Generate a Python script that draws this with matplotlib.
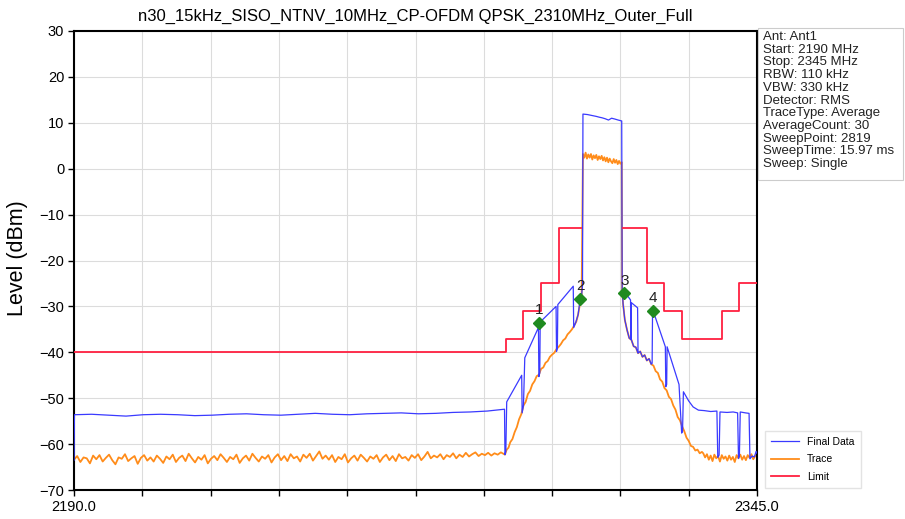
import matplotlib
matplotlib.use("Agg")
import matplotlib.pyplot as plt
from matplotlib.patches import Rectangle
import numpy as np

plt.rcParams['font.family'] = ['Liberation Sans', 'DejaVu Sans']

# ---- data ----
title = "n30_15kHz_SISO_NTNV_10MHz_CP-OFDM QPSK_2310MHz_Outer_Full"
info_lines = ["Ant: Ant1", "Start: 2190 MHz", "Stop: 2345 MHz", "RBW: 110 kHz",
              "VBW: 330 kHz", "Detector: RMS", "TraceType: Average",
              "AverageCount: 30", "SweepPoint: 2819", "SweepTime: 15.97 ms",
              "Sweep: Single"]

# Trace (orange) - noise floor left of the channel
trace_floor_left = [-63.4, -62.6, -63.9, -62.9, -63.1, -64.2, -62.5, -63.3, -62.4, -63.8,
                    -63.0, -62.3, -63.5, -64.4, -62.9, -63.2, -62.2, -63.7, -63.1, -62.6,
                    -64.3, -63.0, -62.4, -63.6, -62.9, -63.8, -62.5, -63.2, -64.1, -62.7,
                    -63.3, -62.3, -63.9, -63.0, -62.5, -63.7, -62.1, -63.1, -64.0, -62.8,
                    -63.4, -62.4, -64.2, -63.2, -62.6, -63.5, -62.2, -63.0, -63.9, -62.8,
                    -63.3, -62.3, -64.1, -63.1, -62.5, -63.6, -62.1, -63.0, -63.8, -62.7,
                    -63.2, -62.4, -64.0, -62.9, -62.2, -63.5, -62.6, -63.7, -62.2, -63.1,
                    -62.7, -63.8, -62.3, -63.0, -62.1, -63.6, -62.6, -61.6, -63.2, -62.5,
                    -63.4, -62.4, -63.9, -62.8, -63.3, -62.2, -64.0, -63.1, -62.5, -63.6,
                    -62.3, -63.0, -63.8, -62.7, -63.2, -62.4, -63.9, -62.9, -62.3, -63.5,
                    -62.6, -63.7, -62.2, -63.1, -62.8, -63.6, -62.4, -63.0, -62.2, -63.5,
                    -62.7, -61.7, -63.1, -62.5, -62.9, -62.2, -63.3, -62.4, -62.8, -62.0,
                    -63.1, -62.3, -62.8, -61.9, -62.7, -62.2, -61.8, -62.6, -62.1, -62.4,
                    -61.9, -62.5, -62.0, -62.3, -61.8, -62.2]
trace_skirt_left_f = [2287.8, 2288.2, 2288.6, 2289.0, 2289.5, 2290.0, 2290.5, 2291.0, 2291.5,
                      2292.0, 2292.5, 2293.0, 2293.5, 2294.0, 2294.5, 2295.0, 2295.5, 2296.0,
                      2296.5, 2297.0, 2297.5, 2298.0, 2298.5, 2299.0, 2299.5, 2300.0, 2300.5,
                      2301.0, 2301.5, 2302.0, 2302.5, 2303.0, 2303.5, 2304.0, 2304.4, 2304.8,
                      2305.2]
trace_skirt_left_l = [-62.3, -61.2, -60.8, -59.6, -58.9, -57.4, -56.3, -54.6, -53.5, -51.6,
                      -50.8, -49.1, -48.4, -47.0, -46.3, -45.2, -44.9, -43.6, -43.3, -42.3,
                      -41.9, -41.0, -40.5, -40.1, -39.3, -38.8, -38.2, -37.4, -37.0, -36.1,
                      -35.6, -35.0, -34.2, -33.3, -31.8, -29.6, -27.8]
trace_channel = [3.2, 2.4, 3.5, 2.2, 3.1, 2.4, 3.2, 2.0, 2.9, 2.3, 3.0, 1.9, 2.7, 2.1, 2.8,
                 1.8, 2.5, 1.6, 2.4, 1.4, 2.2, 1.6, 1.2, 2.1, 1.3, 1.9, 1.0, 1.7, 1.1, 1.4]
trace_skirt_right_f = [2314.4, 2314.6, 2315.0, 2315.5, 2316.0, 2316.5, 2317.0, 2317.5, 2318.0,
                       2318.5, 2319.0, 2319.5, 2320.0, 2320.5, 2321.0, 2321.5, 2322.0, 2322.5,
                       2323.0, 2323.5, 2324.0, 2324.5, 2325.0, 2325.5, 2326.0, 2326.5, 2327.0,
                       2327.5, 2328.0, 2328.5, 2329.0, 2329.5, 2330.0, 2330.5, 2331.0, 2331.5,
                       2332.0, 2332.5]
trace_skirt_right_l = [-26.2, -29.4, -32.9, -35.1, -36.9, -37.3, -38.7, -38.9, -40.2, -39.8,
                       -41.0, -40.6, -41.8, -41.4, -42.6, -42.9, -44.1, -44.5, -45.9, -46.4,
                       -47.8, -48.3, -49.7, -50.2, -51.6, -52.5, -54.1, -54.8, -56.1, -57.2,
                       -58.6, -59.3, -60.4, -60.6, -61.4, -61.2, -62.0, -61.7]
trace_floor_right = [-62.0, -62.9, -62.2, -63.4, -62.5, -63.7, -62.3, -63.1, -62.6, -63.8,
                     -62.4, -63.2, -62.7, -63.6, -62.5, -63.4, -62.8, -63.9, -62.4, -63.1,
                     -62.3, -63.4, -62.6, -63.5, -62.4, -63.0, -62.2, -63.3, -62.6, -62.3]

# Final Data (blue)
final_floor = [-53.6, -53.5, -53.7, -53.9, -53.6, -53.5, -53.6, -53.8, -53.7, -53.5,
               -53.4, -53.6, -53.7, -53.5, -53.3, -53.5, -53.6, -53.4, -53.3, -53.2,
               -53.4, -53.3, -53.1, -53.0, -52.8, -52.4]
final_left_f = [2287.8, 2288.0, 2288.2, 2291.6, 2291.7, 2292.0, 2292.3, 2295.4, 2295.5,
                2295.7, 2295.8, 2299.4, 2299.5, 2299.7, 2299.8, 2303.3, 2303.4, 2303.9,
                2304.4, 2304.8, 2305.2, 2305.4]
final_left_l = [-62.3, -61.6, -50.8, -45.0, -53.2, -51.6, -41.2, -34.6, -45.3,
                -44.5, -33.4, -30.0, -39.8, -39.1, -29.6, -25.6, -34.6, -33.4,
                -31.8, -29.0, -27.5, -25.5]
final_channel_f = [2305.5, 2306.5, 2307.5, 2308.5, 2309.3, 2309.8, 2310.5, 2311.3, 2312.0,
                   2312.8, 2313.5, 2314.3]
final_channel_l = [11.9, 11.8, 11.6, 11.4, 11.2, 11.1, 10.9, 10.6, 11.0, 10.8, 10.6, 10.4]
final_right_f = [2321.2, 2321.3, 2324.2, 2324.3, 2324.5, 2324.6, 2327.3, 2327.9, 2328.1,
                 2328.3, 2329.5, 2330.5, 2331.7, 2333.0, 2334.5, 2335.9, 2336.1, 2336.4,
                 2336.6, 2338.2, 2339.6, 2340.6, 2340.8, 2341.0, 2341.2, 2342.4, 2343.2,
                 2343.4, 2343.9, 2344.4, 2344.8, 2345.0]
final_right_l = [-42.4, -30.6, -38.8, -47.5, -47.0, -38.8, -47.0, -57.6, -57.2,
                 -48.6, -50.6, -51.9, -52.6, -52.7, -52.9, -52.8, -62.9, -62.4,
                 -53.0, -53.1, -53.0, -53.2, -63.1, -62.6, -53.0, -53.2, -53.3,
                 -63.2, -62.6, -62.8, -61.6, -62.0]
final_extra_f = [2314.8, 2316.3, 2316.4, 2316.5, 2317.9, 2318.0]
final_extra_l = [-26.6, -28.6, -37.2, -29.2, -30.3, -39.9]

# Limit (red) steps
limit_edges = [2190, 2288, 2292, 2296, 2300, 2305.0, 2314.6, 2320, 2324, 2328, 2337, 2341, 2345]
limit_levels = [-40, -37, -31, -25, -13, np.nan, -13, -25, -31, -37, -31, -25]

# Markers
marker_f = [2295.5, 2304.85, 2314.9, 2321.4]
marker_l = [-33.6, -28.3, -27.1, -31.0]
marker_names = ["1", "2", "3", "4"]

# ---- assemble series ----
trace_f = np.concatenate([np.linspace(2190.0, 2287.6, len(trace_floor_left)),
                          trace_skirt_left_f,
                          np.linspace(2305.5, 2314.3, len(trace_channel)),
                          trace_skirt_right_f,
                          np.linspace(2332.8, 2345.0, len(trace_floor_right))])
trace_l = np.concatenate([trace_floor_left, trace_skirt_left_l, trace_channel,
                          trace_skirt_right_l, trace_floor_right])

tr_f = np.array(trace_skirt_right_f)
tr_l = np.array(trace_skirt_right_l)
follow = (tr_f >= 2314.4) & (tr_f <= 2321.0)
final_f = np.concatenate([[2190.0], np.linspace(2190.1, 2287.7, len(final_floor)),
                          final_left_f, final_channel_f, tr_f[follow], final_right_f,
                          [np.nan], final_extra_f])
final_l = np.concatenate([[-63.5], final_floor, final_left_l, final_channel_l,
                          tr_l[follow], final_right_l, [np.nan], final_extra_l])

# ---- figure ----
W, H = 905, 519
fig = plt.figure(figsize=(W / 100, H / 100), dpi=100)
ax = fig.add_axes([74 / W, 1 - 490 / H, (757 - 74) / W, (490 - 31) / H])

l_trace, = ax.plot(trace_f, trace_l, color='#ff8c1a', lw=1.3, label='Trace', zorder=2)
l_final, = ax.plot(final_f, final_l, color='#3a3aff', lw=0.9, label='Final Data', zorder=3)
l_limit, = ax.step(limit_edges, limit_levels + [limit_levels[-1]], where='post',
                   color='#ff2040', lw=1.3, label='Limit', zorder=4)
ax.plot(marker_f, marker_l, 'D', color='#1f8a1f', ms=6, zorder=5)
for f, l, n in zip(marker_f, marker_l, marker_names):
    ax.annotate(n, (f, l), xytext=(0, 4), textcoords='offset points',
                ha='center', va='bottom', fontsize=11, color='#222222', zorder=6)

ax.set_xlim(2190, 2345)
ax.set_ylim(-70, 30)
xt = np.linspace(2190, 2345, 11)
ax.set_xticks(xt)
ax.set_xticklabels(['2190.0'] + [''] * 9 + ['2345.0'])
ax.set_yticks(np.arange(-70, 31, 10))
ax.tick_params(direction='out', length=4, width=1, labelsize=10.5, pad=3)
ax.grid(True, color='#dcdcdc', lw=0.8)
ax.set_axisbelow(True)
for s in ax.spines.values():
    s.set_linewidth(1.5)
ax.set_title(title, fontsize=12, pad=7)
fig.text(18 / W, 1 - 258 / H, "Level (dBm)", rotation=90, ha='center', va='center',
         fontsize=15.5)

# info box
fig.patches.append(Rectangle((758 / W, 1 - 180 / H), (903 - 758) / W, (180 - 28) / H,
                             transform=fig.transFigure, fill=False,
                             edgecolor='#cccccc', lw=0.8))
for i, line in enumerate(info_lines):
    fig.text(763 / W, 1 - (37 + i * 12.7) / H, line, ha='left', va='center',
             fontsize=9.5, color='#222222')

fig.legend([l_final, l_trace, l_limit], ['Final Data', 'Trace', 'Limit'],
           loc='lower left', bbox_to_anchor=(760 / W, 1 - 493 / H), fontsize=7.5,
           frameon=True, fancybox=False, edgecolor='#dddddd', handlelength=2.6,
           borderpad=0.6, labelspacing=0.7)

fig.savefig("out.png", dpi=100)
